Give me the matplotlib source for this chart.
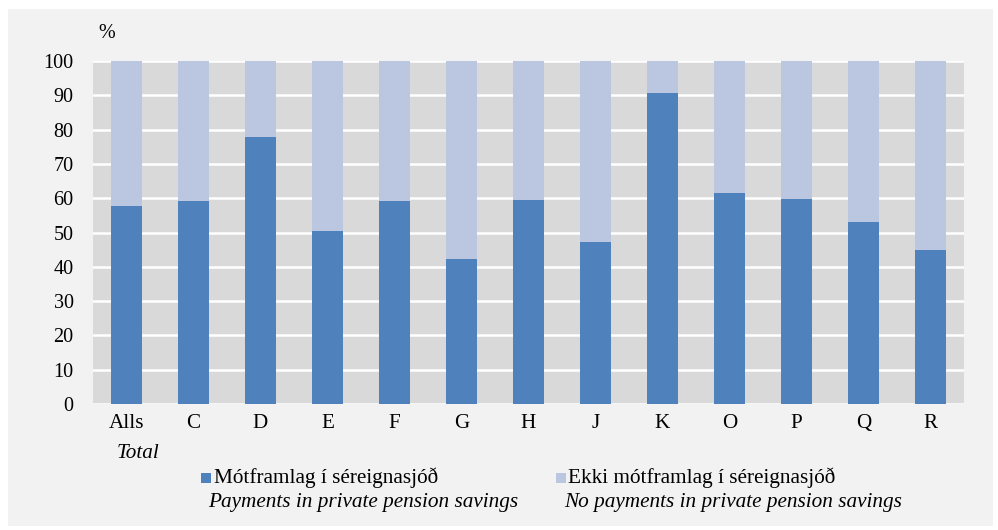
import matplotlib
matplotlib.use("Agg")
import matplotlib.pyplot as plt
from matplotlib.patches import Rectangle

categories = ["Alls", "C", "D", "E", "F", "G", "H", "J", "K", "O", "P", "Q", "R"]
payments = [57.8, 59.2, 77.8, 50.4, 59.1, 42.4, 59.4, 47.2, 90.8, 61.4, 59.9, 53.2, 44.9]
no_payments = [100 - v for v in payments]
yticks = list(range(0, 101, 10))

dark = "#4F81BD"
light = "#BBC7E0"

plt.rcParams["font.family"] = ["Liberation Serif", "DejaVu Serif"]

W, H = 998, 530
fig = plt.figure(figsize=(W / 100, H / 100), dpi=100)
fig.patch.set_facecolor("white")
fig.patches.append(Rectangle((8 / W, 1 - 526 / H), (993 - 8) / W, (526 - 9) / H,
                             transform=fig.transFigure, facecolor="#F2F2F2",
                             edgecolor="none", zorder=-10))

ax = fig.add_axes([93 / W, 1 - 404 / H, (964 - 93) / W, (404 - 61) / H])
ax.set_facecolor("#D9D9D9")
x = range(len(categories))
ax.bar(x, payments, width=0.45, color=dark, zorder=3)
ax.bar(x, no_payments, bottom=payments, width=0.45, color=light, zorder=3)
ax.set_xlim(-0.5, len(categories) - 0.5)
ax.set_ylim(0, 100)
ax.set_yticks(yticks)
ax.set_xticks(list(x))
ax.set_xticklabels(categories)
ax.yaxis.grid(True, color="white", linewidth=1.8, zorder=1)
ax.set_axisbelow(True)
for s in ax.spines.values():
    s.set_visible(False)
ax.tick_params(axis="both", length=0, labelsize=14.5, colors="black")
ax.tick_params(axis="x", labelsize=15.2, pad=7)
ax.tick_params(axis="y", pad=14)

fig.text(98 / W, 1 - 34 / H, "%", fontsize=14.5, ha="left", va="center")
fig.text(138 / W, 1 - 453 / H, "Total", fontsize=15.2, style="italic", ha="center", va="center")

# legend
sq = 10
fs = 15.3
fig.patches.append(Rectangle((201 / W, 1 - (477.5 + sq / 2) / H), sq / W, sq / H,
                             transform=fig.transFigure, facecolor=dark, edgecolor="none"))
fig.text(214 / W, 1 - 478 / H, "Mótframlag í séreignasjóð", fontsize=fs, ha="left", va="center")
fig.text(208 / W, 1 - 502 / H, "Payments in private pension savings", fontsize=fs,
         style="italic", ha="left", va="center")
fig.patches.append(Rectangle((556 / W, 1 - (477.5 + sq / 2) / H), sq / W, sq / H,
                             transform=fig.transFigure, facecolor=light, edgecolor="none"))
fig.text(568 / W, 1 - 478 / H, "Ekki mótframlag í séreignasjóð", fontsize=fs, ha="left", va="center")
fig.text(564 / W, 1 - 502 / H, "No payments in private pension savings", fontsize=fs,
         style="italic", ha="left", va="center")

fig.savefig("out.png", dpi=100, facecolor=fig.get_facecolor())
